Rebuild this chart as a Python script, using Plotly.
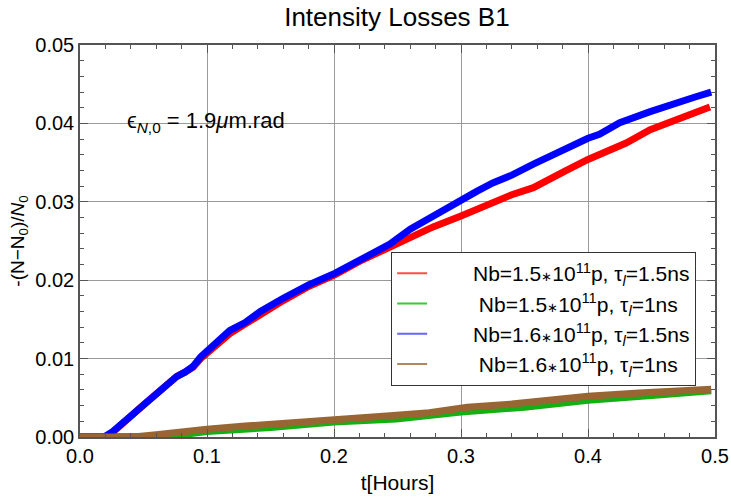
import plotly.graph_objects as go

# ---- data (t in hours, relative losses) ----
t_red = [0, 0.019, 0.025, 0.032, 0.039, 0.050, 0.060, 0.070, 0.076, 0.083, 0.089, 0.095,
         0.101, 0.110, 0.118, 0.130, 0.142, 0.160, 0.180, 0.201, 0.220, 0.244, 0.260, 0.278,
         0.300, 0.325, 0.340, 0.357, 0.370, 0.383, 0.400, 0.409, 0.430, 0.449, 0.470, 0.485, 0.496]
v_red = [0, 0, 0.0005, 0.0014, 0.0025, 0.0041, 0.0055, 0.0069, 0.0077, 0.0083, 0.0089, 0.0100,
         0.0108, 0.0119, 0.0132, 0.0144, 0.0157, 0.0174, 0.0192, 0.0207, 0.0224, 0.0243, 0.0255, 0.0268,
         0.0282, 0.0299, 0.0309, 0.0318, 0.0328, 0.0340, 0.0354, 0.0360, 0.0375, 0.0392, 0.0405, 0.0414, 0.0421]

t_blue = [0, 0.019, 0.025, 0.032, 0.039, 0.050, 0.060, 0.070, 0.076, 0.083, 0.089, 0.095,
          0.101, 0.110, 0.118, 0.130, 0.142, 0.160, 0.180, 0.201, 0.220, 0.244, 0.260, 0.283,
          0.300, 0.312, 0.325, 0.340, 0.357, 0.372, 0.386, 0.400, 0.409, 0.425, 0.449, 0.470, 0.485, 0.497]
v_blue = [0, 0, 0.0006, 0.0016, 0.0026, 0.0042, 0.0056, 0.0069, 0.0077, 0.0083, 0.0090, 0.0102,
          0.0111, 0.0122, 0.0136, 0.0146, 0.0160, 0.0177, 0.0194, 0.0209, 0.0226, 0.0246, 0.0265, 0.0287,
          0.0303, 0.0313, 0.0324, 0.0334, 0.0348, 0.0360, 0.0371, 0.0381, 0.0386, 0.0401, 0.0415, 0.0427, 0.0434, 0.0440]

t_green = [0, 0.035, 0.060, 0.080, 0.100, 0.150, 0.200, 0.249, 0.300, 0.350, 0.400, 0.450, 0.497]
v_green = [0, 0, 0.0001, 0.0003, 0.0007, 0.0012, 0.0019, 0.0023, 0.0032, 0.0038, 0.0047, 0.0053, 0.0059]

t_brown = [0, 0.042, 0.060, 0.080, 0.100, 0.130, 0.160, 0.200, 0.244, 0.275, 0.300, 0.305,
           0.340, 0.375, 0.400, 0.440, 0.470, 0.497]
v_brown = [0, 0, 0.0003, 0.0007, 0.0010, 0.0014, 0.0018, 0.0023, 0.0027, 0.0031, 0.0036, 0.0038,
           0.0042, 0.0049, 0.0052, 0.0056, 0.0059, 0.0061]

STAR = "<span style='font-size:13px'>∗</span>"
PAD = "&nbsp;" * 7
labels = [
    PAD + "Nb=1.5" + STAR + "10<sup>11</sup>p, τ<sub><i>l</i></sub>=1.5ns",
    PAD + "&nbsp;Nb=1.5" + STAR + "10<sup>11</sup>p, τ<sub><i>l</i></sub>=1ns",
    PAD + "Nb=1.6" + STAR + "10<sup>11</sup>p, τ<sub><i>l</i></sub>=1.5ns",
    PAD + "&nbsp;Nb=1.6" + STAR + "10<sup>11</sup>p, τ<sub><i>l</i></sub>=1ns",
]
colors = ["#ff0000", "#12b012", "#0000ff", "#996633"]
legend_colors = ["#ff4d4d", "#33cc33", "#6666ff", "#b08860"]

FONT = "Liberation Sans, Arial, sans-serif"

fig = go.Figure()
series = [(t_red, v_red), (t_green, v_green), (t_blue, v_blue), (t_brown, v_brown)]
for (t, v), c in zip(series, colors):
    fig.add_trace(go.Scatter(x=t, y=v, mode="lines", line=dict(color=c, width=7),
                             showlegend=False, hoverinfo="skip"))
for lab, c in zip(labels, legend_colors):
    fig.add_trace(go.Scatter(x=[None], y=[None], mode="lines", name=lab,
                             line=dict(color=c, width=2)))

axis_common = dict(
    showgrid=True, gridcolor="#9a9a9a", gridwidth=1, zeroline=False,
    showline=True, linecolor="#555555", linewidth=1.5, mirror="allticks",
    ticks="inside", ticklen=8, tickcolor="#555555", automargin=False,
    tickfont=dict(size=20, color="black", family=FONT),
)

fig.update_layout(
    width=731, height=497,
    margin=dict(l=80, r=16, t=45, b=60),
    plot_bgcolor="white", paper_bgcolor="white",
    title=dict(text="Intensity Losses B1", x=0.543, xanchor="center", y=0.967, yanchor="middle",
               font=dict(size=26, color="black", family=FONT)),
    xaxis=dict(range=[0, 0.5], dtick=0.1, tickformat=".1f",
               minor=dict(dtick=0.02, ticks="inside", ticklen=4, tickcolor="#555555", showgrid=False),
               title=dict(text="t[Hours]", font=dict(size=21, color="black", family=FONT), standoff=10),
               **axis_common),
    yaxis=dict(range=[0, 0.05], dtick=0.01, tickformat=".2f",
               minor=dict(dtick=0.002, ticks="inside", ticklen=4, tickcolor="#555555", showgrid=False),
               title=dict(text="-(N−N<sub>0</sub>)/<i>N</i><sub>0</sub>",
                          font=dict(size=19, color="black", family=FONT), standoff=6),
               **axis_common),
    legend=dict(x=0.49, y=0.472, xanchor="left", yanchor="top",
                bgcolor="white", bordercolor="#333333", borderwidth=1,
                font=dict(size=21, color="black", family=FONT),
                tracegroupgap=0),
    showlegend=True,
)

fig.add_annotation(x=0.0354, y=0.0402, xref="x", yref="y", xanchor="left", yanchor="middle",
                   text="ϵ<sub><i>N</i>,0</sub> = 1.9<i>μ</i>m.rad", showarrow=False,
                   font=dict(size=22, color="black", family=FONT))

fig.write_html("out.html")
